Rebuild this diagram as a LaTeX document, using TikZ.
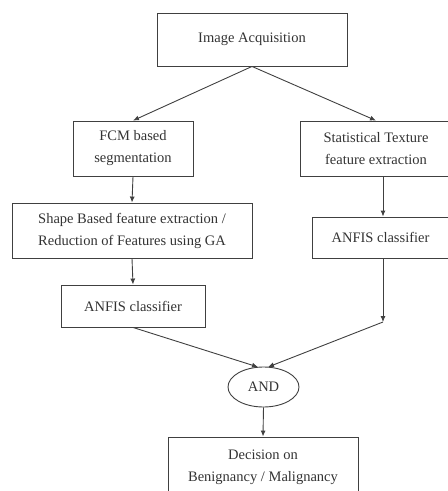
\documentclass[tikz,border=0pt]{standalone}
\usepackage{fontspec}
\setmainfont{Liberation Serif}
\usetikzlibrary{arrows.meta,shapes.geometric}
\tikzset{
	stage/.style={draw=black!75, line width=0.9pt, align=center, inner sep=0pt, text=black!80},
	arr/.style={draw=black!75, line width=0.9pt, -{Latex[length=6pt,width=5pt]}}
}

\begin{document}
\begin{tikzpicture}[x=1pt, y=-1pt, font=\fontsize{14.5}{22}\selectfont]
	\useasboundingbox (0,0) rectangle (448,491);
	\clip (0,0) rectangle (448,491);

	\node[stage, minimum width=190pt, minimum height=53pt] (acq) at (252,39.5) {Image Acquisition};

	\node[stage, minimum width=120pt, minimum height=55pt] (fcm) at (133,148.5) {FCM based\\segmentation};
	\node[stage, minimum width=152pt, minimum height=55pt] (stat) at (376,148.5) {Statistical Texture\\feature extraction};

	\node[stage, minimum width=240pt, minimum height=55pt] (shape) at (132,230.5) {Shape Based feature extraction /\\Reduction of Features using GA};
	\node[stage, minimum width=137pt, minimum height=41pt] (anfisR) at (380.5,237.5) {ANFIS classifier};

	\node[stage, minimum width=144pt, minimum height=42pt] (anfisL) at (133,306) {ANFIS classifier};

	\node[stage, ellipse, minimum width=71pt, minimum height=40pt] (and) at (263.5,387) {AND};

	\node[stage, minimum width=190pt, minimum height=60pt] (dec) at (263,467) {Decision on\\Benignancy / Malignancy};

	\coordinate (rj) at (383,322);
	\coordinate (andL) at (258,367);
	\coordinate (andR) at (268,367);

	\foreach \a / \b in {
	acq.south/fcm.north, acq.south/stat.north,
	fcm.south/shape.north,
	shape.south/anfisL.north,
	anfisL.south/andL,
	and.south/dec.north}
	{
		\draw[arr] (\a) -- (\b);
	};

	\draw[arr] (stat.south -| rj) -- (anfisR.north -| rj);
	\draw[arr] (anfisR.south -| rj) -- (rj);
	\draw[arr] (rj) -- (andR);
\end{tikzpicture}
\end{document}
